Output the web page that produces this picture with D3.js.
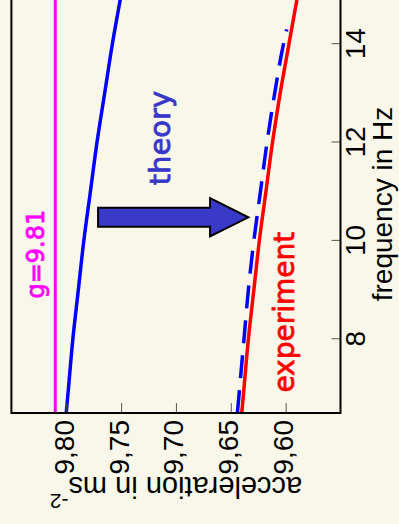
<!DOCTYPE html>
<html>
<head>
<meta charset="utf-8">
<script src="https://cdn.jsdelivr.net/npm/d3@7"></script>
<style>
  html, body { margin: 0; padding: 0; background: #f8f7ea; }
  svg { display: block; }
</style>
</head>
<body>
<svg id="chart" width="399" height="524"></svg>
<script>
// Measured free-fall acceleration vs. driving frequency
const freq          = [6.5, 7, 8, 9, 10, 11, 12, 13, 14, 15];
const theory        = [9.800, 9.798, 9.794, 9.789, 9.784, 9.778, 9.772, 9.765, 9.758, 9.750];
const experiment    = [9.640, 9.638, 9.634, 9.629, 9.624, 9.618, 9.612, 9.605, 9.597, 9.589];
const freqShifted   = [6.5, 7, 8, 9, 10, 11, 12, 13, 14, 14.3];
const theoryShifted = [9.644, 9.642, 9.638, 9.634, 9.629, 9.623, 9.617, 9.610, 9.602, 9.599];
const gValue        = 9.81;

const freqDomain  = [6.5, 15];
const accelDomain = [9.55, 9.85];
const freqTicks   = [8, 10, 12, 14];
const accelTicks  = [9.60, 9.65, 9.70, 9.75, 9.80];

// annotation anchors (frequency, acceleration)
const labelTheory     = { text: "theory",     f: 12.09, a: 9.705 };
const labelExperiment = { text: "experiment", f: 8.55,  a: 9.5924 };
const labelG          = { text: "g=9.81",     f: 9.73,  a: 9.8203 };
const arrowFreq = 10.48, arrowFrom = 9.771, arrowTo = 9.634;

const screenW = 399, screenH = 524;
const svg = d3.select("#chart");
svg.append("rect").attr("width", screenW).attr("height", screenH).attr("fill", "#f8f7ea");

// The chart is laid out landscape (screenH wide, screenW tall) and turned a quarter turn.
const g = svg.append("g").attr("transform", `translate(0,${screenH}) rotate(-90)`);

const plot = { left: 111, right: 529, top: 11.4, bottom: 340.5 };
const x = d3.scaleLinear().domain(freqDomain).range([plot.left, plot.right]);
const y = d3.scaleLinear().domain(accelDomain).range([plot.bottom, plot.top]);

const commaLocale = d3.formatLocale({ decimal: ",", thousands: ".", grouping: [3], currency: ["", ""] });
const fmtAccel = commaLocale.format(".2f");

g.append("clipPath").attr("id", "plotClip")
  .append("rect")
  .attr("x", plot.left).attr("y", plot.top)
  .attr("width", plot.right - plot.left).attr("height", plot.bottom - plot.top);

const body = g.append("g").attr("clip-path", "url(#plotClip)");

// g reference line
body.append("line")
  .attr("x1", plot.left).attr("x2", plot.right)
  .attr("y1", y(gValue)).attr("y2", y(gValue))
  .attr("stroke", "#ff00ff").attr("stroke-width", 3);

const line = d3.line().curve(d3.curveMonotoneX);

body.append("path")
  .attr("d", line(freq.map((f, i) => [x(f), y(theory[i])])))
  .attr("fill", "none").attr("stroke", "#0000ff").attr("stroke-width", 3.5);

body.append("path")
  .attr("d", line(freqShifted.map((f, i) => [x(f), y(theoryShifted[i])])))
  .attr("fill", "none").attr("stroke", "#0000ff").attr("stroke-width", 3.5)
  .attr("stroke-dasharray", "23,12");

body.append("path")
  .attr("d", line(freq.map((f, i) => [x(f), y(experiment[i])])))
  .attr("fill", "none").attr("stroke", "#ff0000").attr("stroke-width", 3.5);

// axes with inward ticks
const xAxis = d3.axisBottom(x).tickValues(freqTicks).tickFormat(d3.format("d"))
  .tickSizeInner(-9).tickSizeOuter(0).tickPadding(5);
const yAxis = d3.axisLeft(y).tickValues(accelTicks).tickFormat(fmtAccel)
  .tickSizeInner(-10).tickSizeOuter(0).tickPadding(7);

const axisFont = "'Liberation Sans', Arial, sans-serif";

const gx = g.append("g").attr("transform", `translate(0,${plot.bottom})`).call(xAxis);
const gy = g.append("g").attr("transform", `translate(${plot.left},0)`).call(yAxis);
[gx, gy].forEach(a => {
  a.select(".domain").remove();
  a.selectAll(".tick line").attr("stroke", "#555").attr("stroke-width", 1);
  a.selectAll(".tick text").attr("fill", "#000").attr("font-family", axisFont).attr("font-size", 28);
});
gy.selectAll(".tick text").attr("dy", "0.25em");

// frame
g.append("rect")
  .attr("x", plot.left).attr("y", plot.top)
  .attr("width", plot.right - plot.left).attr("height", plot.bottom - plot.top)
  .attr("fill", "none").attr("stroke", "#000").attr("stroke-width", 2);

// axis titles
g.append("text")
  .attr("x", (plot.left + plot.right) / 2).attr("y", 392)
  .attr("text-anchor", "middle")
  .attr("font-family", axisFont).attr("font-size", 28).attr("fill", "#000")
  .text("frequency in Hz");

const yTitle = g.append("text")
  .attr("transform", `translate(47,${(plot.top + plot.bottom) / 2}) rotate(-90)`)
  .attr("text-anchor", "middle")
  .attr("font-family", axisFont).attr("font-size", 29).attr("fill", "#000");
yTitle.append("tspan").text("acceleration in ms");
yTitle.append("tspan").attr("dy", -17).attr("font-size", 21).text("-2");

// arrow from the theory curve to the shifted curve
const ax = x(arrowFreq), a0 = y(arrowFrom), a1 = y(arrowTo);
const shaftHalf = 9.5, headHalf = 19.2, headLen = 38.3;
const arrowPts = [
  [ax - shaftHalf, a0], [ax + shaftHalf, a0],
  [ax + shaftHalf, a1 - headLen], [ax + headHalf, a1 - headLen],
  [ax, a1],
  [ax - headHalf, a1 - headLen], [ax - shaftHalf, a1 - headLen]
];
g.append("path")
  .attr("d", d3.line()(arrowPts) + "Z")
  .attr("fill", "#3a3ac8").attr("stroke", "#000").attr("stroke-width", 2)
  .attr("stroke-linejoin", "miter");

// annotations, set in a heavy rounded hand
const noteFont = "'DejaVu Sans', sans-serif";
[[labelTheory, "#3636c8", 29], [labelExperiment, "#ff0000", 28], [labelG, "#ff00ff", 24]]
  .forEach(([lab, col, size]) => {
    g.append("text")
      .attr("x", x(lab.f)).attr("y", y(lab.a))
      .attr("text-anchor", "middle")
      .attr("font-family", noteFont).attr("font-size", size).attr("fill", col)
      .attr("stroke", col).attr("stroke-width", 0.8).attr("stroke-linejoin", "round")
      .text(lab.text);
  });
</script>
</body>
</html>
